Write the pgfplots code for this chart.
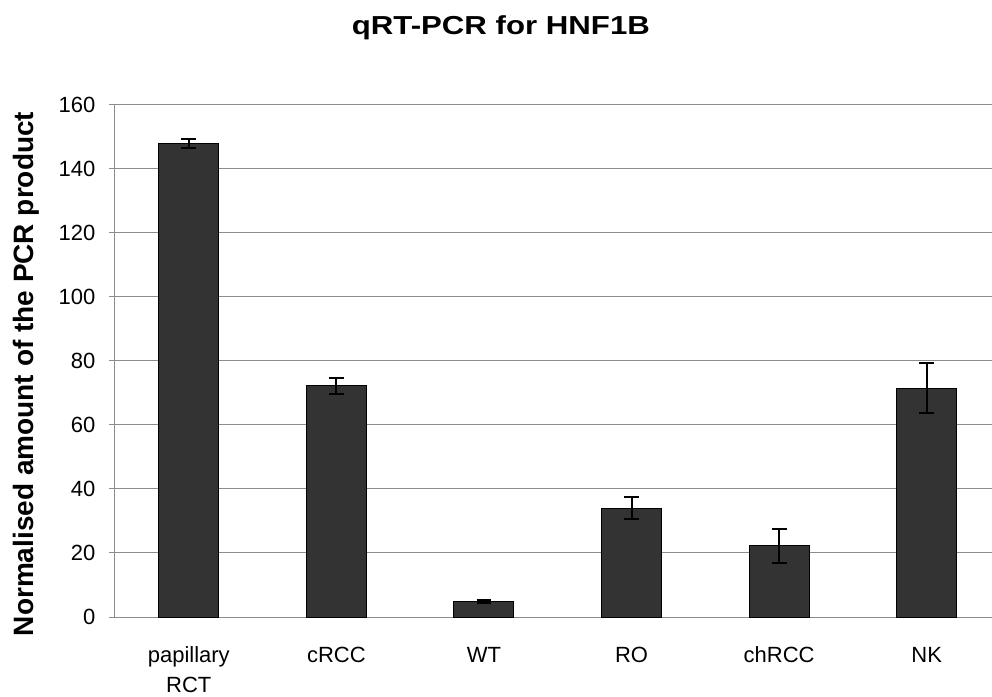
\documentclass[border=0pt]{standalone}
\usepackage{fontspec}
\setmainfont{Liberation Sans}
\usepackage{graphicx}
\usepackage{pgfplots}
\pgfplotsset{compat=1.18}
\definecolor{barfill}{HTML}{333333}
\definecolor{gridgray}{HTML}{8C8C8C}

\begin{document}
\begin{tikzpicture}
\useasboundingbox (0,0) rectangle (744pt,522pt);
\begin{axis}[
	at={(86.25pt,59.25pt)}, anchor=south west,
	scale only axis, width=657.75pt, height=384pt,
	ybar, bar width=45pt,
	xmin=-0.5, xmax=5.442, ymin=0, ymax=160,
	axis x line*=bottom, axis y line*=left,
	axis line style={draw=gridgray, line width=0.75pt, -},
	ytick={0,20,...,160},
	ymajorgrids, major grid style={draw=gridgray, line width=0.75pt},
	tick align=outside, major tick length=4.5pt,
	y tick style={draw=gridgray, line width=0.75pt},
	xtick={0,...,5},
	xticklabels={{\strut papillary\\RCT},\strut cRCC,\strut WT,\strut RO,\strut chRCC,\strut NK},
	x tick style={draw=none},
	extra x ticks={-0.5,0.5,1.5,2.5,3.5,4.5},
	extra x tick labels={},
	extra x tick style={major tick length=6pt, tick style={draw=gridgray, line width=0.75pt}},
	/pgf/number format/assume math mode=true,
	tick label style={font=\fontsize{16.5}{22.5}\selectfont},
	xticklabel style={align=center, anchor=north, yshift=-10.5pt},
	yticklabel style={xshift=-6.75pt},
	ylabel={Normalised amount of the PCR product},
	ylabel style={font=\fontsize{21}{24}\selectfont\bfseries, at={(rel axis cs:-0.1015,0.4746)}, anchor=center},
	title={\scalebox{1.2}[1]{qRT-PCR for HNF1B}},
	title style={font=\fontsize{19.5}{23}\selectfont\bfseries, at={(rel axis cs:0.44,1)}, anchor=base, yshift=47pt},
]
\addplot[fill=barfill, draw=black, line width=0.75pt,
	error bars/.cd, y dir=both, y explicit,
	error bar style={black, line width=1.5pt},
	error mark options={rotate=90, mark size=5.6pt, line width=1.5pt, black}]
	coordinates {
	(0,148.0) +- (0,1.5)
	(1,72.3) +- (0,2.5)
	(2,4.8) +- (0,0.5)
	(3,34.0) +- (0,3.5)
	(4,22.2) +- (0,5.4)
	(5,71.5) +- (0,7.9)
	};
\end{axis}
\end{tikzpicture}
\end{document}
